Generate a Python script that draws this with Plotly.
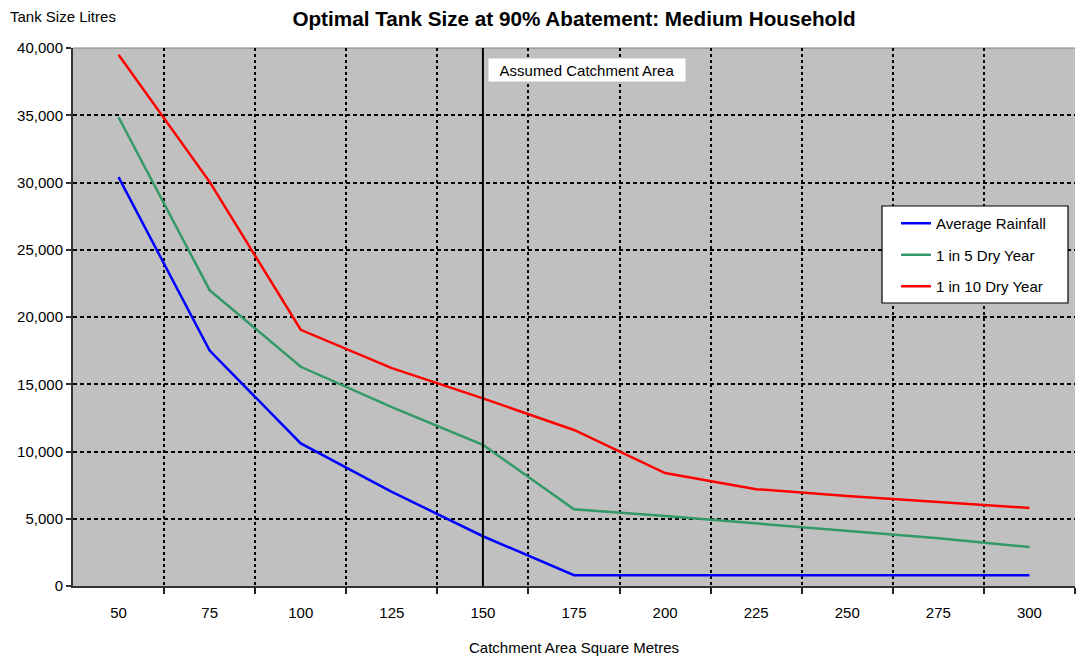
import plotly.graph_objects as go

# ---- data ----
categories = [50, 75, 100, 125, 150, 175, 200, 225, 250, 275, 300]
average_rainfall = [30400, 17500, 10600, 7000, 3700, 800, 800, 800, 800, 800, 800]
dry_1_in_5 = [34850, 22000, 16300, 13300, 10500, 5700, 5200, 4650, 4150, 3550, 2900]
dry_1_in_10 = [39500, 30050, 19050, 16200, 13950, 11600, 8400, 7200, 6700, 6250, 5800]
series_names = ["Average Rainfall", "1 in 5 Dry Year", "1 in 10 Dry Year"]
series_colors = ["#0000FF", "#339966", "#FF0000"]
assumed_area = 150
y_ticks = [0, 5000, 10000, 15000, 20000, 25000, 30000, 35000, 40000]

FONT = "Liberation Sans, Arial, sans-serif"

W, H = 1076, 659
ML, MR, MT, MB = 73, 1, 48, 73
PW, PH = W - ML - MR, H - MT - MB

step = categories[1] - categories[0]
x_min = categories[0] - step / 2
x_max = categories[-1] + step / 2
boundaries = [c + step / 2 for c in categories]

fig = go.Figure()
for i, (name, vals, col) in enumerate(zip(series_names,
                                          [average_rainfall, dry_1_in_5, dry_1_in_10],
                                          series_colors)):
    fig.add_trace(go.Scatter(
        x=categories, y=vals, mode="lines", name=name,
        line=dict(color=col, width=2.5), legendgroup=f"g{i}",
    ))

fig.add_shape(type="line", xref="x", yref="y",
              x0=assumed_area, x1=assumed_area, y0=y_ticks[0], y1=y_ticks[-1],
              line=dict(color="black", width=2))

# top border of plot area (thin grey)
fig.add_shape(type="line", xref="paper", yref="paper", layer="below",
              x0=0, x1=1, y0=1, y1=1, line=dict(color="#808080", width=1))

# legend frame (white box with black border)
lx0, lx1, ly0, ly1 = 882, 1068, 206, 303
fig.add_shape(type="rect", xref="paper", yref="paper", layer="above",
              x0=(lx0 - ML) / PW, x1=(lx1 - ML) / PW,
              y0=(MT + PH - ly1) / PH, y1=(MT + PH - ly0) / PH,
              fillcolor="white", line=dict(color="black", width=1.2))

fig.add_annotation(x=assumed_area, y=y_ticks[-1], xref="x", yref="y",
                   xanchor="left", yanchor="top", xshift=5, yshift=-10,
                   text="Assumed Catchment Area", showarrow=False,
                   bgcolor="white", width=190, height=16, borderpad=3,
                   align="center", font=dict(family=FONT, size=15, color="black"))

fig.add_annotation(x=0, y=1, xref="paper", yref="paper",
                   xanchor="left", yanchor="middle", xshift=-65, yshift=32,
                   text="Tank Size Litres", showarrow=False,
                   font=dict(family=FONT, size=15, color="black"))

fig.add_annotation(x=0.5, y=0, xref="paper", yref="paper",
                   xanchor="center", yanchor="middle", yshift=-61,
                   text="Catchment Area Square Metres", showarrow=False,
                   font=dict(family=FONT, size=15, color="black"))

fig.update_layout(
    width=W, height=H,
    margin=dict(l=ML, r=MR, t=MT, b=MB, autoexpand=False),
    paper_bgcolor="white", plot_bgcolor="#C0C0C0",
    font=dict(family=FONT, size=15, color="black"),
    title=dict(text="<b>Optimal Tank Size at 90% Abatement: Medium Household</b>",
               x=0.5, xref="paper", y=1 - 19 / H, yref="container",
               xanchor="center", yanchor="middle",
               font=dict(family=FONT, size=20.7, color="black")),
    showlegend=True,
    legend=dict(x=(896 - ML) / PW, y=(MT + PH - 207) / PH, xanchor="left", yanchor="top",
                bgcolor="rgba(0,0,0,0)", borderwidth=0,
                font=dict(family=FONT, size=15, color="black"),
                tracegroupgap=9),
)

fig.update_xaxes(
    type="linear", range=[x_min, x_max], automargin=False,
    tickmode="array", tickvals=categories, ticktext=[str(c) for c in categories],
    ticks="", showgrid=False, zeroline=False,
    showline=True, linecolor="#333333", linewidth=1.5,
    ticklabelstandoff=12,
    tickfont=dict(family=FONT, size=15, color="black"),
    minor=dict(tickmode="array", tickvals=boundaries, ticks="outside", ticklen=6,
               tickcolor="#222222", tickwidth=1.5,
               showgrid=True, gridcolor="black", gridwidth=2, griddash="3px,3px"),
)

fig.update_yaxes(
    range=[y_ticks[0], y_ticks[-1]], tickmode="array", tickvals=y_ticks, automargin=False,
    tickformat=",", ticks="outside", ticklen=5, tickcolor="#333333", tickwidth=1.5,
    showline=True, linecolor="#333333", linewidth=2, zeroline=False,
    showgrid=True, gridcolor="black", gridwidth=2, griddash="4px,3px",
    tickfont=dict(family=FONT, size=15, color="black"),
)

fig.write_html(
    "out.html",
    config={"displayModeBar": False},
    post_script="document.body.style.margin='0px';document.body.style.padding='0px';"
                "document.body.style.overflow='hidden';",
)
